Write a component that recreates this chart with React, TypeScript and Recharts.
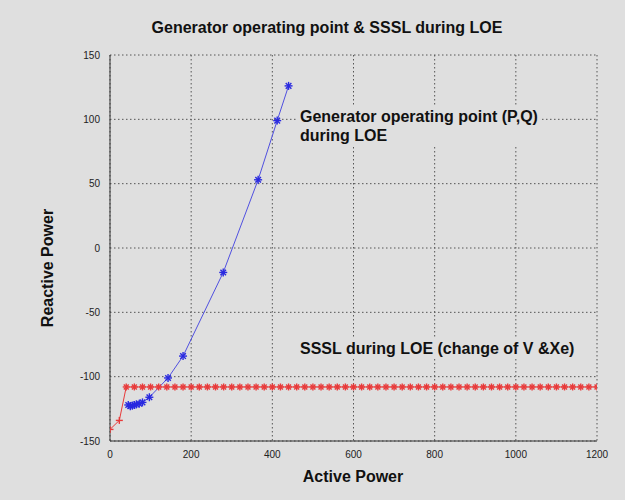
import * as React from "react";
import { ComposedChart, Line, XAxis, YAxis, CartesianGrid } from "recharts";

// generator operating point (P,Q) during LOE
const genP = [440, 412, 365, 279, 180, 143, 97, 80, 72, 65, 60, 55, 50, 45];
const genQ = [126, 99, 53, -19, -84, -101, -116, -120, -121, -121.5, -122, -122.5, -123, -122];

// SSSL during LOE
const ssslP = [
  0, 23, 40, 60, 80, 100, 120, 140, 160, 180, 200, 220, 240, 260, 280, 300, 320, 340, 360, 380,
  400, 420, 440, 460, 480, 500, 520, 540, 560, 580, 600, 620, 640, 660, 680, 700, 720, 740, 760,
  780, 800, 820, 840, 860, 880, 900, 920, 940, 960, 980, 1000, 1020, 1040, 1060, 1080, 1100, 1120,
  1140, 1160, 1180, 1200,
];
const ssslQ = [
  -141, -134, -108, -108, -108, -108, -108, -108, -108, -108, -108, -108, -108, -108, -108, -108,
  -108, -108, -108, -108, -108, -108, -108, -108, -108, -108, -108, -108, -108, -108, -108, -108,
  -108, -108, -108, -108, -108, -108, -108, -108, -108, -108, -108, -108, -108, -108, -108, -108,
  -108, -108, -108, -108, -108, -108, -108, -108, -108, -108, -108, -108, -108,
];

const xTicks = [0, 200, 400, 600, 800, 1000, 1200];
const yTicks = [-150, -100, -50, 0, 50, 100, 150];

const genData = genP.map((p, i) => ({ p, q: genQ[i] }));
const ssslData = ssslP.map((p, i) => ({ p, q: ssslQ[i] }));

const BG = "#dfdfdf";
const FONT = "Arial, 'Liberation Sans', sans-serif";

function Star({ cx, cy, color, plus, r = 3.5 }: { cx?: number; cy?: number; color: string; plus?: boolean; r?: number }) {
  if (cx == null || cy == null) return null;
  const d = r * 0.7;
  return (
    <g stroke={color} strokeWidth={1.4}>
      <line x1={cx - r} y1={cy} x2={cx + r} y2={cy} />
      <line x1={cx} y1={cy - r} x2={cx} y2={cy + r} />
      {!plus && <line x1={cx - d} y1={cy - d} x2={cx + d} y2={cy + d} />}
      {!plus && <line x1={cx - d} y1={cy + d} x2={cx + d} y2={cy - d} />}
    </g>
  );
}

const tickStyle = { fontSize: 10, fill: "#222", fontFamily: FONT };
const bold: React.CSSProperties = { fontWeight: "bold", fontSize: 16, color: "#111", whiteSpace: "nowrap" };

export default function App() {
  return (
    <div style={{ position: "absolute", left: 0, top: 0, width: 625, height: 500, background: BG, fontFamily: FONT }}>
      <div style={{ ...bold, position: "absolute", top: 28, left: 327, transform: "translate(-50%, -50%)" }}>
        Generator operating point &amp; SSSL during LOE
      </div>
      <ComposedChart width={625} height={500} margin={{ top: 55, right: 28, bottom: 29, left: 0 }}>
        <CartesianGrid xAxisId="b" yAxisId="l" stroke="#555" strokeDasharray="1.5 2.5" strokeWidth={1} />
        <XAxis
          xAxisId="b"
          type="number"
          dataKey="p"
          domain={[0, 1200]}
          ticks={xTicks}
          allowDataOverflow
          height={30}
          stroke="#333"
          tickLine={false}
          tick={tickStyle}
          tickMargin={4}
        />
        <XAxis xAxisId="t" orientation="top" type="number" domain={[0, 1200]} ticks={xTicks} height={0} stroke="#888" tick={false} tickLine={false} />
        <YAxis
          yAxisId="l"
          type="number"
          dataKey="q"
          domain={[-150, 150]}
          ticks={yTicks}
          allowDataOverflow
          width={110}
          stroke="#333"
          tickLine={false}
          tick={tickStyle}
          tickMargin={4}
        />
        <YAxis yAxisId="r" orientation="right" type="number" domain={[-150, 150]} ticks={yTicks} width={0} stroke="#888" tick={false} tickLine={false} />
        <Line
          xAxisId="b"
          yAxisId="l"
          data={ssslData}
          dataKey="q"
          stroke="#e83a3a"
          strokeWidth={1}
          isAnimationActive={false}
          dot={(props: any) => <Star key={props.index} cx={props.cx} cy={props.cy} color="#e83a3a" plus={props.index < 2} />}
          activeDot={false}
        />
        <Line
          xAxisId="b"
          yAxisId="l"
          data={genData}
          dataKey="q"
          stroke="#5050e0"
          strokeWidth={1}
          isAnimationActive={false}
          dot={(props: any) => <Star key={props.index} cx={props.cx} cy={props.cy} color="#2a2ae0" r={4} />}
          activeDot={false}
        />
      </ComposedChart>
      <div style={{ ...bold, position: "absolute", left: 353, top: 477, transform: "translate(-50%, -50%)" }}>Active Power</div>
      <div style={{ ...bold, position: "absolute", left: 48, top: 268, transform: "translate(-50%, -50%) rotate(-90deg)" }}>Reactive Power</div>
      <div style={{ ...bold, position: "absolute", left: 296, top: 107, padding: "0 4px", background: BG, lineHeight: "19px" }}>
        Generator operating point (P,Q)
        <br />
        during LOE
      </div>
      <div style={{ ...bold, position: "absolute", left: 296, top: 339, padding: "0 4px", background: BG, lineHeight: "20px" }}>
        SSSL during LOE (change of V &amp;Xe)
      </div>
    </div>
  );
}
